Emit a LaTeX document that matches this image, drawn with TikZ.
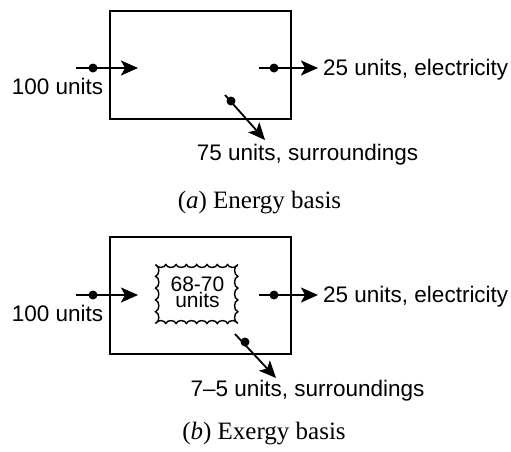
\documentclass[tikz,border=0pt]{standalone}
\usepackage{fontspec}
\setmainfont{Liberation Serif}
\newfontfamily\labfont{Liberation Sans}
\usetikzlibrary{arrows.meta}
\begin{document}
\begin{tikzpicture}[x=1pt,y=-1pt,
  sysbox/.style={draw,line width=1.8pt,inner sep=0pt,outer sep=0pt},
  flow/.style={line width=1.8pt,-{Stealth[length=17pt,width=15pt,inset=4pt]}},
  dotmark/.style={circle,fill,inner sep=0pt,minimum size=9pt},
  lab/.style={inner sep=0pt,anchor=base,font=\labfont\fontsize{22.5}{26}\selectfont},
  captext/.style={inner sep=0pt,anchor=base,font=\fontsize{25}{30}\selectfont}]
\useasboundingbox (0,0) rectangle (511,451);
% ---------- (a) ----------
\node[sysbox,minimum width=181pt,minimum height=108pt] (boxA) at (200.5,65) {};
\coordinate (a1s) at (76,68); \coordinate (a1e) at (138,68);
\coordinate (a2s) at (259,68); \coordinate (a2e) at (318,68);
\coordinate (a3s) at (225,95); \coordinate (a3e) at (265,140);
\draw[flow] (a1s) -- (a1e);
\draw[flow] (a2s) -- (a2e);
\draw[flow] (a3s) -- (a3e);
\node[dotmark] (d1) at (93,68) {};
\node[dotmark] (d2) at (274,68) {};
\node[dotmark] (d3) at (231,101) {};
\node[lab] (in1) at (57.5,94) {100 units};
\node[lab,anchor=base west] (out1) at (323,75) {25 units, electricity};
\node[lab] (sur1) at (307.5,160) {75 units, surroundings};
\node[captext] (capA) at (259.5,208) {(\textit{a}) Energy basis};
% ---------- (b) ----------
\node[sysbox,minimum width=181pt,minimum height=117pt] (boxB) at (200.5,295.5) {};
\coordinate (b1s) at (76,295); \coordinate (b1e) at (138,295);
\coordinate (b2s) at (259,295); \coordinate (b2e) at (318,295);
\coordinate (b3s) at (235,334); \coordinate (b3e) at (276,378);
\draw[flow] (b1s) -- (b1e);
\draw[flow] (b2s) -- (b2e);
\draw[flow] (b3s) -- (b3e);
\node[dotmark] (e1) at (93,295) {};
\node[dotmark] (e2) at (274,295) {};
\node[dotmark] (e3) at (245,342) {};
\draw[line width=1.4pt] (155.5,264.5)
  \foreach \i in {1,...,8}{ to[bend right=75] ++(10.3,0)}
  \foreach \i in {1,...,5}{ to[bend right=75] ++(0,11.8)}
  \foreach \i in {1,...,8}{ to[bend right=75] ++(-10.3,0)}
  \foreach \i in {1,...,5}{ to[bend right=75] ++(0,-11.8)};
\node[lab,font=\labfont\fontsize{21}{16}\selectfont] (store1) at (197.5,291) {68-70};
\node[lab,font=\labfont\fontsize{21}{16}\selectfont] (store2) at (197.5,307.5) {units};
\node[lab] (in2) at (57.5,321) {100 units};
\node[lab,anchor=base west] (out2) at (323,302) {25 units, electricity};
\node[lab] (sur2) at (307.5,396) {7–5 units, surroundings};
\node[captext] (capB) at (264,439) {(\textit{b}) Exergy basis};
\end{tikzpicture}
\end{document}
